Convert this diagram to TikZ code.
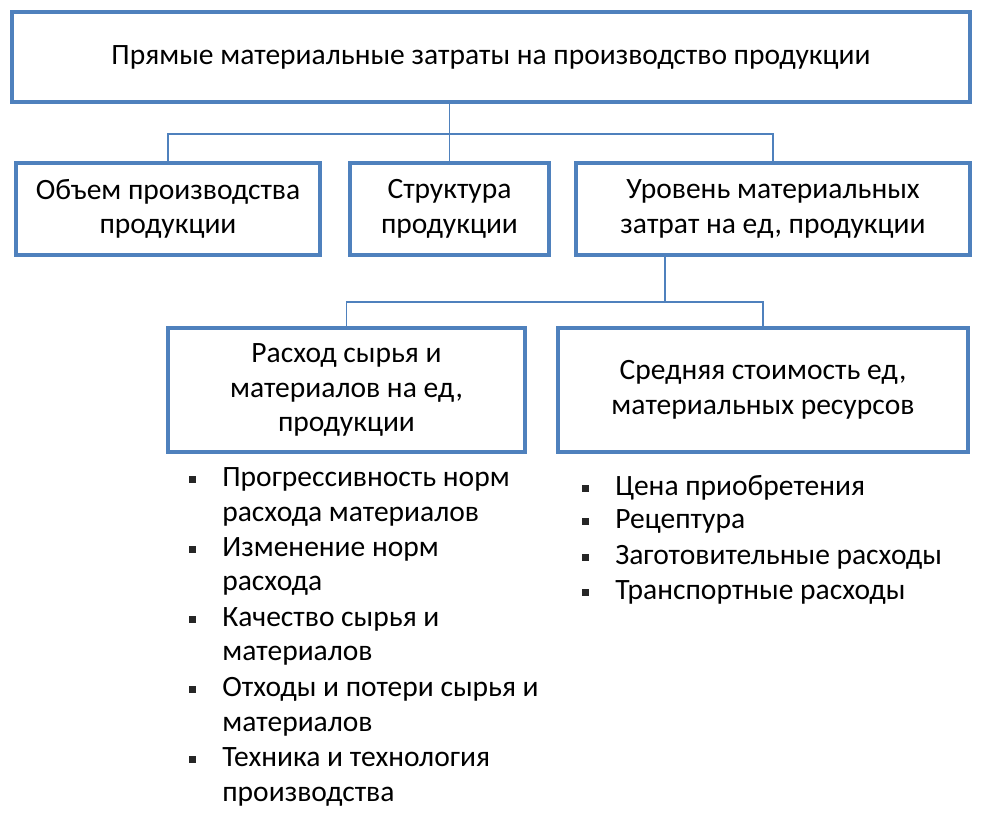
\documentclass[tikz,border=0pt]{standalone}
\usepackage{fontspec}
\setmainfont{Carlito}
\usetikzlibrary{calc, positioning}
\definecolor{boxblue}{RGB}{79,129,189}

\begin{document}
\begin{tikzpicture}[
  box/.style={draw=boxblue, line width=2.2pt, fill=white, align=center, inner sep=2pt,
    font=\fontsize{16.8}{19.6}\selectfont},
  conn/.style={draw=boxblue, line width=0.9pt},
  item/.style={anchor=west, align=left, inner sep=0pt, font=\fontsize{16.8}{19.8}\selectfont},
  bul/.style={fill=black!85, minimum size=0.14cm, inner sep=0pt}
]
\useasboundingbox (0,0) rectangle (19.72,-16.32);
\def\h{1.84}

\node[box, minimum width=19.16cm, minimum height=1.8cm] (top) at (9.82,-1.14)
  {Прямые материальные затраты на производство продукции};

\node[box, minimum width=6.08cm, minimum height=\h cm] (vol) at (3.36,-4.18)
  {Объем производства\\продукции};
\node[box, minimum width=3.98cm, minimum height=\h cm] (str) at (8.99,-4.18)
  {Структура\\продукции};
\node[box, minimum width=7.88cm, minimum height=\h cm] (lvl) at (15.46,-4.18)
  {Уровень материальных\\затрат на ед, продукции};

\node[box, minimum width=7.14cm, minimum height=2.48cm] (rash) at (6.93,-7.8)
  {Расход сырья и\\материалов на ед,\\продукции};
\node[box, minimum width=8.2cm, minimum height=2.48cm] (cost) at (15.26,-7.8)
  {Средняя стоимость ед,\\материальных ресурсов};

\coordinate (j1) at ($(str.north)+(0,0.54)$);
\coordinate (j2) at ($(lvl.south west)+(1.82,-0.9)$);

\draw[conn] (top.south -| str.north) -- (str.north);
\draw[conn] (vol.north) |- (j1) -| (lvl.north);
\draw[conn] (j2 |- lvl.south) -- (j2);
\draw[conn] (rash.north) |- (j2) -| (cost.north);

\foreach \y/\t [count=\i] in {9.94/{Прогрессивность норм\\расхода материалов},
    11.33/{Изменение норм\\расхода},
    12.73/{Качество сырья и\\материалов},
    14.13/{Отходы и потери сырья и\\материалов},
    15.54/{Техника и технология\\производства}} {
  \node[item] (l\i) at (4.44,-\y) {\t};
  \node[bul] (lb\i) at (3.84,{-\y+0.35}) {};
}

\foreach \y/\t [count=\i] in {9.76/Цена приобретения, 10.42/Рецептура,
    11.14/Заготовительные расходы, 11.84/Транспортные расходы} {
  \node[item] (r\i) at (12.3,-\y) {\t};
  \node[bul] (rb\i) at (11.7,-\y) {};
}
\end{tikzpicture}
\end{document}
